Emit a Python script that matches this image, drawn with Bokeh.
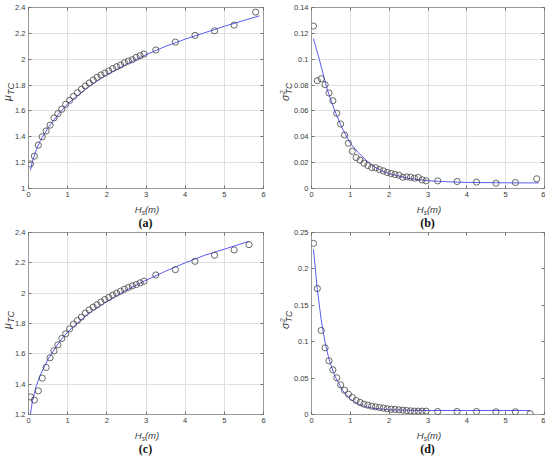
from bokeh.plotting import figure
from bokeh.layouts import column, row
from bokeh.models import FixedTicker, LinearAxis, Range1d, Div
from bokeh.embed import file_html
from bokeh.resources import INLINE

# ---------------- data ----------------
hs_bins = [0.05, 0.15, 0.25, 0.35, 0.45, 0.55, 0.65, 0.75, 0.85, 0.95,
           1.05, 1.15, 1.25, 1.35, 1.45, 1.55, 1.65, 1.75, 1.85, 1.95,
           2.05, 2.15, 2.25, 2.35, 2.45, 2.55, 2.65, 2.75, 2.85, 2.95,
           3.25, 3.75, 4.25, 4.75, 5.25]
hs_ab = hs_bins + [5.8]
hs_cd = hs_bins + [5.63]

mu_a = [1.19, 1.25, 1.335, 1.40, 1.445, 1.49, 1.546, 1.579, 1.613, 1.651,
        1.682, 1.713, 1.741, 1.767, 1.793, 1.816, 1.839, 1.86, 1.878, 1.893,
        1.909, 1.927, 1.942, 1.955, 1.973, 1.986, 1.996, 2.014, 2.027, 2.04,
        2.071, 2.132, 2.184, 2.22, 2.264, 2.364]
var_b = [0.1256, 0.0834, 0.0849, 0.0803, 0.0739, 0.0679, 0.0582, 0.0499, 0.0414, 0.035,
         0.0288, 0.0239, 0.0219, 0.0196, 0.0178, 0.0162, 0.016, 0.0147, 0.0136, 0.0124,
         0.0116, 0.0108, 0.0103, 0.0087, 0.009, 0.0087, 0.008, 0.0085, 0.0067, 0.0059,
         0.0059, 0.0054, 0.0049, 0.0041, 0.0046, 0.0075]
mu_c = [1.316, 1.295, 1.356, 1.44, 1.51, 1.574, 1.62, 1.659, 1.701, 1.732,
        1.765, 1.796, 1.82, 1.842, 1.868, 1.89, 1.908, 1.923, 1.941, 1.958,
        1.971, 1.987, 2.0, 2.013, 2.026, 2.037, 2.048, 2.057, 2.068, 2.079,
        2.12, 2.155, 2.21, 2.25, 2.285, 2.32]
var_d = [0.235, 0.173, 0.1154, 0.0916, 0.0737, 0.0614, 0.0504, 0.0407, 0.0334, 0.0279,
         0.0234, 0.0192, 0.0165, 0.0142, 0.0128, 0.0114, 0.0105, 0.0096, 0.0087, 0.0078,
         0.0073, 0.0069, 0.0064, 0.006, 0.0055, 0.005, 0.0046, 0.0046, 0.0046, 0.0046,
         0.0041, 0.0041, 0.0041, 0.0037, 0.0037, 0.001]

fit_a_x = [0.05, 0.1, 0.2, 0.3, 0.5, 0.75, 1.0, 1.5, 2.0, 2.5, 3.0, 3.5, 4.0, 4.5, 5.0, 5.5, 5.9]
fit_a_y = [1.14, 1.21, 1.30, 1.37, 1.47, 1.57, 1.655, 1.78, 1.88, 1.96, 2.035, 2.10, 2.155, 2.205, 2.255, 2.30, 2.335]
fit_b_x = [0.05, 0.2, 0.4, 0.6, 0.8, 1.0, 1.2, 1.4, 1.6, 1.8, 2.0, 2.5, 3.0, 3.5, 4.0, 5.0, 5.85]
fit_b_y = [0.116, 0.100, 0.077, 0.060, 0.046, 0.035, 0.028, 0.022, 0.017, 0.0138, 0.0115, 0.0078, 0.006, 0.0052, 0.0047, 0.0044, 0.0043]
fit_c_x = [0.05, 0.1, 0.2, 0.3, 0.5, 0.75, 1.0, 1.5, 2.0, 2.5, 3.0, 3.5, 4.0, 4.5, 5.0, 5.63]
fit_c_y = [1.20, 1.29, 1.39, 1.46, 1.565, 1.665, 1.745, 1.86, 1.945, 2.02, 2.085, 2.145, 2.20, 2.25, 2.29, 2.342]
fit_d_x = [0.05, 0.15, 0.25, 0.35, 0.45, 0.6, 0.8, 1.0, 1.2, 1.4, 1.6, 2.0, 2.5, 3.0, 4.0, 5.63]
fit_d_y = [0.227, 0.172, 0.13, 0.099, 0.076, 0.053, 0.033, 0.021, 0.0145, 0.0105, 0.0085, 0.0065, 0.0058, 0.0055, 0.0055, 0.0055]

x_ticks = [0, 1, 2, 3, 4, 5, 6]
x_tick_labels = ["0", "1", "2", "3", "4", "5", "6"]
a_ticks = [1.0, 1.2, 1.4, 1.6, 1.8, 2.0, 2.2, 2.4]
a_tick_labels = ["1", "1.2", "1.4", "1.6", "1.8", "2", "2.2", "2.4"]
b_ticks = [0.0, 0.02, 0.04, 0.06, 0.08, 0.1, 0.12, 0.14]
b_tick_labels = ["0", "0.02", "0.04", "0.06", "0.08", "0.1", "0.12", "0.14"]
c_ticks = [1.2, 1.4, 1.6, 1.8, 2.0, 2.2, 2.4]
c_tick_labels = ["1.2", "1.4", "1.6", "1.8", "2", "2.2", "2.4"]
d_ticks = [0.0, 0.05, 0.1, 0.15, 0.2, 0.25]
d_tick_labels = ["0", "0.05", "0.1", "0.15", "0.2", "0.25"]

# ---------------- style ----------------
BOX = "#9a9a9a"
TICK = "#707070"
TXT = "#3a3a3a"
GRID = "#e0e0e0"
LINE = "#5c5cf5"
MARK = "#444444"
SANS = "Liberation Sans"


def panel(xs, ys, fx, fy, yr, yt, ytl, grid, w, h, bl, br, bt, bb):
    p = figure(width=w, height=h, min_border_left=bl, min_border_right=br,
               min_border_top=bt, min_border_bottom=bb,
               x_range=Range1d(0, 6), y_range=Range1d(*yr),
               output_backend="svg", toolbar_location=None)
    p.border_fill_color = None
    p.outline_line_color = BOX
    p.outline_line_width = 1
    xt = FixedTicker(ticks=x_ticks)
    ytk = FixedTicker(ticks=yt)
    p.xaxis.ticker = xt
    p.yaxis.ticker = ytk
    p.xaxis.major_label_overrides = dict(zip(x_ticks, x_tick_labels))
    p.yaxis.major_label_overrides = dict(zip(yt, ytl))
    for ax in (p.xaxis[0], p.yaxis[0]):
        ax.axis_line_color = None
        ax.major_tick_in = 3
        ax.major_tick_out = 0
        ax.minor_tick_line_color = None
        ax.major_tick_line_color = TICK
        ax.major_label_text_font = SANS
        ax.major_label_text_font_size = "7.5px"
        ax.major_label_text_color = TXT
        ax.major_label_standoff = 3
    for loc, tk, tl in (("above", xt, x_ticks), ("right", ytk, yt)):
        ax = LinearAxis(ticker=tk, axis_line_color=None, major_tick_in=3,
                        major_tick_out=0, minor_tick_line_color=None,
                        major_tick_line_color=TICK, major_label_standoff=0,
                        major_label_text_font_size="1px",
                        major_label_overrides={t: "" for t in tl})
        p.add_layout(ax, loc)
    if grid:
        p.xgrid.ticker = xt
        p.ygrid.ticker = ytk
        p.grid.grid_line_color = GRID
    else:
        p.grid.visible = False
    p.line(fx, fy, line_color=LINE, line_width=1)
    p.scatter(xs, ys, marker="circle", size=6.2, fill_color=None,
              line_color=MARK, line_width=0.8)
    return p


DIV_STYLES = {"overflow": "visible", "z-index": "5"}


def xlabel_div(w, h, cx, ly, ty, tag):
    html = (
        f'<div style="position:absolute;left:{cx}px;top:{ly}px;transform:translate(-50%,-50%);'
        f'white-space:nowrap;font-family:\'{SANS}\';font-style:italic;font-size:9.5px;'
        f'line-height:11px;color:{TXT}">H<sub style="font-size:6.5px;vertical-align:-2px;'
        f'line-height:0">s</sub>(m)</div>'
        f'<div style="position:absolute;left:{cx - 1.5}px;top:{ty}px;transform:translate(-50%,-50%);'
        f'white-space:nowrap;font-family:\'Liberation Serif\';font-weight:bold;'
        f'font-size:12px;line-height:13px;color:#111">{tag}</div>'
    )
    return Div(text=html, width=w, height=h, margin=0, styles=DIV_STYLES)


def ylabel_div(w, h, cx, cy, kind):
    if kind == "mu":
        inner = ('μ<span style="font-size:9px;vertical-align:-2.5px;line-height:0">TC</span>')
    else:
        inner = ('σ<span style="display:inline-block;vertical-align:middle;'
                 'font-size:8.5px;line-height:7px;text-align:left;margin-left:0.5px">'
                 '<span style="display:block;font-size:7px">2</span>'
                 '<span style="display:block">TC</span></span>')
    html = (
        f'<div style="position:absolute;left:{cx}px;top:{cy}px;'
        f'transform:translate(-50%,-50%) rotate(-90deg);white-space:nowrap;'
        f'font-family:\'{SANS}\';font-style:italic;font-size:10.5px;line-height:12px;'
        f'color:{TXT}">{inner}</div>'
    )
    return Div(text=html, width=w, height=h, margin=0, styles=DIV_STYLES)


# layout geometry (pixels)
H1, H2 = 201, 199
BT1, BT2, BB = 7, 4, 13
FA = panel(hs_ab, mu_a, fit_a_x, fit_a_y, (1.0, 2.4), a_ticks, a_tick_labels, True,
           265, H1, 20, 10, BT1, BB)
FB = panel(hs_ab, var_b, fit_b_x, fit_b_y, (0.0, 0.14), b_ticks, b_tick_labels, True,
           262, H1, 28, 1, BT1, BB)
FC = panel(hs_cd, mu_c, fit_c_x, fit_c_y, (1.2, 2.4), c_ticks, c_tick_labels, True,
           265, H2, 20, 10, BT2, BB)
FD = panel(hs_cd, var_d, fit_d_x, fit_d_y, (0.0, 0.25), d_ticks, d_tick_labels, False,
           262, H2, 28, 1, BT2, BB)

YA = ylabel_div(8, H1, 6.5, 92, "mu")
YB = ylabel_div(10, H1, 12.5, 92, "sigma")
YC = ylabel_div(8, H2, 6.5, 92, "mu")
YD = ylabel_div(10, H2, 12.5, 92, "sigma")

XA = xlabel_div(273, 27, 147, 8, 21.5, "(a)")
XB = xlabel_div(272, 27, 156, 8, 21.5, "(b)")
XC = xlabel_div(273, 30, 147, 8, 21.5, "(c)")
XD = xlabel_div(272, 30, 156, 8, 21.5, "(d)")

layout = column(row(YA, FA, YB, FB), row(XA, XB),
                row(YC, FC, YD, FD), row(XC, XD))
open("out.html", "w").write(file_html(layout, INLINE))
